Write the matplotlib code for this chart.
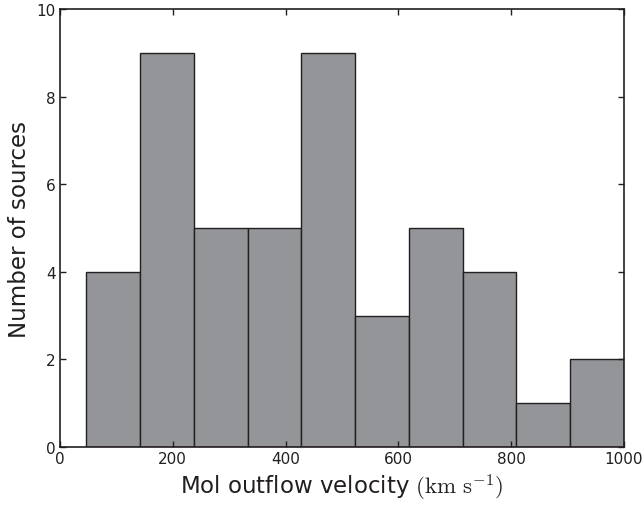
import numpy as np
import matplotlib
matplotlib.use('Agg')
import matplotlib.pyplot as plt

# Histogram data
bin_edges = [46, 142, 237, 333, 428, 523, 619, 714, 809, 905, 1000]
counts    = [4, 9, 5, 5, 9, 3, 5, 4, 1, 2]

plt.rcParams['mathtext.fontset'] = 'cm'

fig = plt.figure(figsize=(6.44, 5.06), dpi=100)
ax = fig.add_axes([60/644, 1-448/506, 564/644, 438/506])

edges = np.array(bin_edges, dtype=float)
ax.bar(edges[:-1], counts, width=np.diff(edges), align='edge',
       color='#939598', edgecolor='#231f20', linewidth=1.0)

ax.set_xlim(0, 1000)
ax.set_ylim(0, 10)
ax.set_xticks([0, 200, 400, 600, 800, 1000])
ax.set_yticks([0, 2, 4, 6, 8, 10])
ax.tick_params(direction='in', top=True, right=True, length=4, width=1,
               labelsize=11, color='#231f20', labelcolor='#231f20', pad=3)
for s in ax.spines.values():
    s.set_color('#231f20')
    s.set_linewidth(1.2)

ax.set_xlabel(r'Mol outflow velocity $(\mathrm{km\ s^{-1}})$', fontsize=16.5, color='#231f20')
ax.set_ylabel('Number of sources', fontsize=16.5, color='#231f20')

plt.savefig('out.png', dpi=100)
